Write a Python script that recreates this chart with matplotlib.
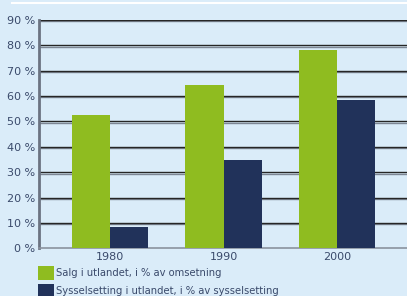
import matplotlib
matplotlib.use("Agg")
import matplotlib.pyplot as plt
import matplotlib.patheffects as pe
import numpy as np

years = ["1980", "1990", "2000"]
salg = [52.5, 64.4, 78.2]
sysselsetting = [8.4, 34.8, 58.5]
series_labels = ["Salg i utlandet, i % av omsetning",
                 "Sysselsetting i utlandet, i % av sysselsetting"]
yticks = list(range(0, 100, 10))

bg = "#daecf9"
green = "#8fbc20"
navy = "#21325a"
textcol = "#3a4a6b"

fig = plt.figure(figsize=(4.07, 2.96), dpi=100, facecolor=bg)
ax = fig.add_axes([39 / 407, 1 - 248.3 / 296, 1 - 39 / 407, (248.3 - 20) / 296])
ax.set_facecolor(bg)

x = np.arange(len(years))
w = 0.335
ax.bar(x - w / 2, salg, w, color=green, zorder=3, label=series_labels[0])
ax.bar(x + w / 2, sysselsetting, w, color=navy, zorder=3, label=series_labels[1])

ax.set_xlim(-0.626, 2.617)
ax.set_ylim(0, 90)

for v in yticks[1:]:
    ax.axhline(v, color="#262626", lw=1.0, zorder=2,
               path_effects=[pe.SimpleLineShadow(offset=(0, -1.0), shadow_color="#7d8694", alpha=1),
                             pe.Normal()])

ax.set_yticks(yticks)
ax.set_yticklabels([f"{v} %" for v in yticks])
ax.set_xticks(x)
ax.set_xticklabels(years)
ax.tick_params(axis="both", length=0, colors=textcol, labelsize=8)
ax.tick_params(axis="y", pad=3)
ax.tick_params(axis="x", pad=3)

for s in ["top", "right"]:
    ax.spines[s].set_visible(False)
ax.spines["left"].set_color("#6b7382")
ax.spines["left"].set_linewidth(2)
ax.spines["bottom"].set_color("#8a929e")
ax.spines["bottom"].set_linewidth(1.2)

# white rule at the top
fig.add_artist(plt.Line2D([12 / 407, 1], [1 - 3 / 296, 1 - 3 / 296], color="white", lw=1.5))

leg = fig.legend(loc="upper left", bbox_to_anchor=(38 / 407, 1 - 266 / 296), frameon=False,
                 fontsize=7.2, labelcolor=textcol, handlelength=1.6, handleheight=1.75,
                 handletextpad=0.25, labelspacing=0.45, borderaxespad=0, borderpad=0)

fig.savefig("out.png", dpi=100, facecolor=bg)
